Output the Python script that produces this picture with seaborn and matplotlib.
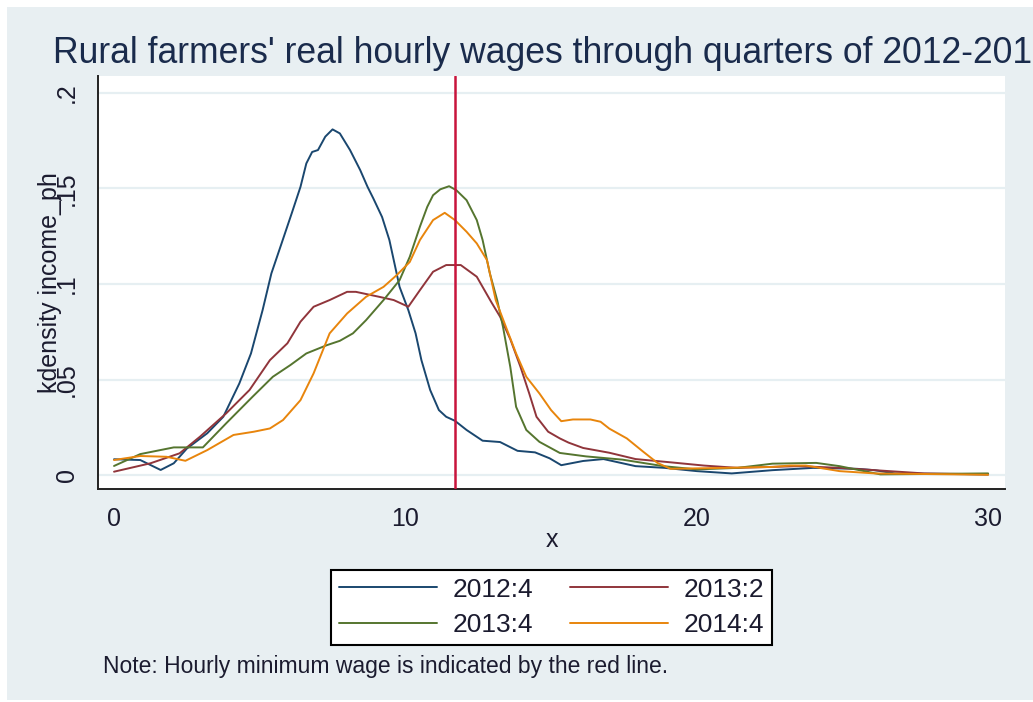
import numpy as np
import pandas as pd
import matplotlib
matplotlib.use("Agg")
import matplotlib.pyplot as plt
from matplotlib.patches import Rectangle
import seaborn as sns

# Valeurs (densite kernel par trimestre)
x_2012q4 = [0, 0.9, 1.6, 2.05, 2.5, 3.2, 3.75, 4.3, 4.7, 5.1, 5.4, 5.75, 6.1, 6.4, 6.6, 6.8, 7.0, 7.25,
            7.5, 7.75, 8.1, 8.45, 8.7, 8.9, 9.2, 9.45, 9.6, 9.8, 10.1, 10.35, 10.55, 10.85, 11.15, 11.4,
            11.7, 12.1, 12.65, 13.25, 13.85, 14.45, 14.95, 15.35, 16.1, 16.8, 17.9, 18.9, 20.0, 21.2,
            22.6, 24.0, 25.5, 26.1, 26.8, 30.0]
y_2012q4 = [.0084, .008, .0028, .0063, .014, .022, .0306, .048, .0637, .0864, .1055, .1212, .137, .1508,
            .163, .169, .170, .177, .1808, .1787, .170, .1595, .1508, .1447, .135, .123, .1125, .0985,
            .0864, .0742, .0602, .0446, .0341, .0306, .0285, .0237, .0181, .0174, .0128, .012, .0089,
            .0053, .0075, .0085, .0048, .0039, .0022, .001, .0027, .0039, .0034, .0027, .001, .0005]

x_2013q2 = [0, 1.25, 2.25, 2.95, 3.85, 4.65, 5.35, 5.95, 6.4, 6.85, 7.4, 8.0, 8.3, 9.1, 9.6, 10.1, 10.5,
            10.95, 11.4, 11.9, 12.45, 12.95, 13.25, 13.6, 13.95, 14.25, 14.5, 14.9, 15.3, 15.6, 16.1,
            17.0, 17.9, 19.1, 20.25, 21.4, 23.5, 24.9, 26.1, 27.8, 30.0]
y_2013q2 = [.0019, .0063, .0115, .0202, .0324, .0446, .0602, .069, .0803, .0881, .0916, .0959, .0959,
            .0933, .0916, .0881, .0968, .1064, .1099, .1099, .1038, .0905, .0829, .0712, .0567, .0428,
            .0306, .0228, .0193, .0171, .0143, .0118, .0085, .0068, .0051, .0039, .0048, .0039, .0027,
            .001, .0005]

x_2013q4 = [0, 0.9, 2.05, 3.05, 3.85, 4.75, 5.45, 6.05, 6.6, 7.3, 7.75, 8.2, 8.65, 9.25, 9.8, 10.15,
            10.5, 10.75, 10.95, 11.2, 11.5, 11.75, 12.1, 12.45, 12.65, 12.9, 13.15, 13.35, 13.6, 13.8,
            14.15, 14.6, 15.3, 16.2, 17.45, 18.85, 20.0, 21.4, 22.6, 24.1, 24.9, 26.3, 30.0]
y_2013q4 = [.0049, .0111, .0146, .0146, .0272, .041, .0515, .0576, .0637, .068, .0703, .0742, .0811,
            .0916, .102, .1142, .13, .1403, .1464, .1495, .1511, .149, .1438, .1334, .123, .1055, .0916,
            .0776, .0567, .0358, .0237, .0175, .0117, .0099, .0082, .0048, .0031, .0039, .0061, .0065,
            .0048, .0005, .001]

x_2014q4 = [0, 0.9, 1.8, 2.45, 3.2, 4.1, 4.8, 5.35, 5.8, 6.4, 6.85, 7.4, 8.0, 8.65, 9.25, 9.7, 10.15,
            10.5, 10.95, 11.35, 11.7, 12.1, 12.45, 12.8, 13.1, 13.45, 13.8, 14.15, 14.6, 15.0, 15.35,
            15.75, 16.35, 16.7, 17.0, 17.6, 18.15, 18.65, 19.1, 20.95, 22.6, 23.2, 23.75, 24.9, 26.1, 30.0]
y_2014q4 = [.008, .0101, .0097, .0076, .0132, .0211, .0228, .0245, .0289, .0393, .0533, .0742, .0846,
            .0933, .0985, .1046, .1115, .123, .1334, .1372, .1334, .1273, .1212, .1125, .0916, .0776,
            .0637, .0515, .0428, .0341, .0283, .0292, .0292, .028, .0244, .0193, .0125, .0065, .0034,
            .0039, .0044, .0051, .0051, .0022, .001, .0003]

labels = ["2012:4", "2013:2", "2013:4", "2014:4"]
colors = ["#1a476f", "#90353b", "#55752f", "#e8850c"]
min_wage = 11.7
y_ticks = [0, 0.05, 0.1, 0.15, 0.2]
y_ticklabels = ["0", ".05", ".1", ".15", ".2"]
x_ticks = [0, 10, 20, 30]

# tableau long pour seaborn
frames = []
for lab, xs, ys in zip(labels, [x_2012q4, x_2013q2, x_2013q4, x_2014q4],
                       [y_2012q4, y_2013q2, y_2013q4, y_2014q4]):
    frames.append(pd.DataFrame({"x": xs, "density": ys, "quarter": lab}))
df = pd.concat(frames, ignore_index=True)

sns.set_style("white")
plt.rcParams["font.family"] = ["Liberation Sans", "DejaVu Sans"]

W, H = 1033, 702
fig = plt.figure(figsize=(W / 100, H / 100), dpi=100)
fig.patch.set_facecolor("white")
bg = "#e8eff2"
fig.add_artist(Rectangle((7 / W, 2 / H), (W - 7) / W, 693 / H, transform=fig.transFigure,
                         facecolor=bg, edgecolor="none", zorder=-10))

ax = fig.add_axes([98.3 / W, 1 - 489.3 / H, (1005 - 98.3) / W, (489.3 - 76) / H])
ax.set_facecolor("white")

sns.lineplot(data=df, x="x", y="density", hue="quarter", hue_order=labels,
             palette=dict(zip(labels, colors)), estimator=None, linewidth=1.4,
             legend=False, ax=ax)

ax.axvline(min_wage, color="#c8143c", lw=1.8, zorder=5)

ax.set_xlim(-0.54, 30.58)
ax.set_ylim(-0.0073, 0.2087)
ax.set_xticks(x_ticks)
ax.set_xticklabels([str(t) for t in x_ticks])
ax.set_yticks(y_ticks)
ax.set_yticklabels(y_ticklabels, rotation=90, va="center")

txt_col = "#1b1b2f"
ax.tick_params(axis="both", labelsize=18, colors="#222222", labelcolor=txt_col,
               length=8, width=1.3, direction="out")
ax.tick_params(axis="y", pad=6)
ax.tick_params(axis="x", pad=5)

ax.yaxis.grid(True, color="#e6eff2", lw=1.6)
ax.xaxis.grid(False)
ax.set_axisbelow(True)
for s in ["top", "right"]:
    ax.spines[s].set_visible(False)
for s in ["left", "bottom"]:
    ax.spines[s].set_color("#222222")
    ax.spines[s].set_linewidth(1.4)

ax.set_xlabel("x", fontsize=18, color=txt_col)
ax.xaxis.label.set_va("center")
ax.xaxis.set_label_coords((552 - 98.3) / (1005 - 98.3), (489.3 - 540) / (489.3 - 76))
ax.set_ylabel("kdensity income_ph", fontsize=18, color=txt_col)
ax.yaxis.label.set_va("center")
ax.yaxis.set_label_coords((50 - 98.3) / (1005 - 98.3), 0.5)

# le titre depasse a droite comme sur l'original
fig.text(53 / W, 1 - 63 / H, "Rural farmers' real hourly wages through quarters of 2012-2014",
         fontsize=25.6, color="#1a2b4c", ha="left", va="baseline")

# legende en lignes : on reordonne pour le remplissage par colonne de matplotlib
lines = ax.get_lines()[:4]
order = [0, 2, 1, 3]
leg = ax.legend([lines[i] for i in order], [labels[i] for i in order], loc="center",
                bbox_to_anchor=(551.5 / W, 1 - 607.5 / H), bbox_transform=fig.transFigure,
                ncol=2, fontsize=19, frameon=True, fancybox=False, edgecolor="black",
                facecolor="white", framealpha=1, handlelength=3.7, handletextpad=0.6,
                columnspacing=1.4, labelspacing=0.45, borderpad=0.3)
leg.get_frame().set_linewidth(1.5)
for t in leg.get_texts():
    t.set_color(txt_col)

fig.text(103 / W, 1 - 673 / H, "Note: Hourly minimum wage is indicated by the red line.",
         fontsize=16.5, color=txt_col, ha="left", va="baseline")

fig.savefig("out.png", dpi=100, facecolor=fig.get_facecolor())
